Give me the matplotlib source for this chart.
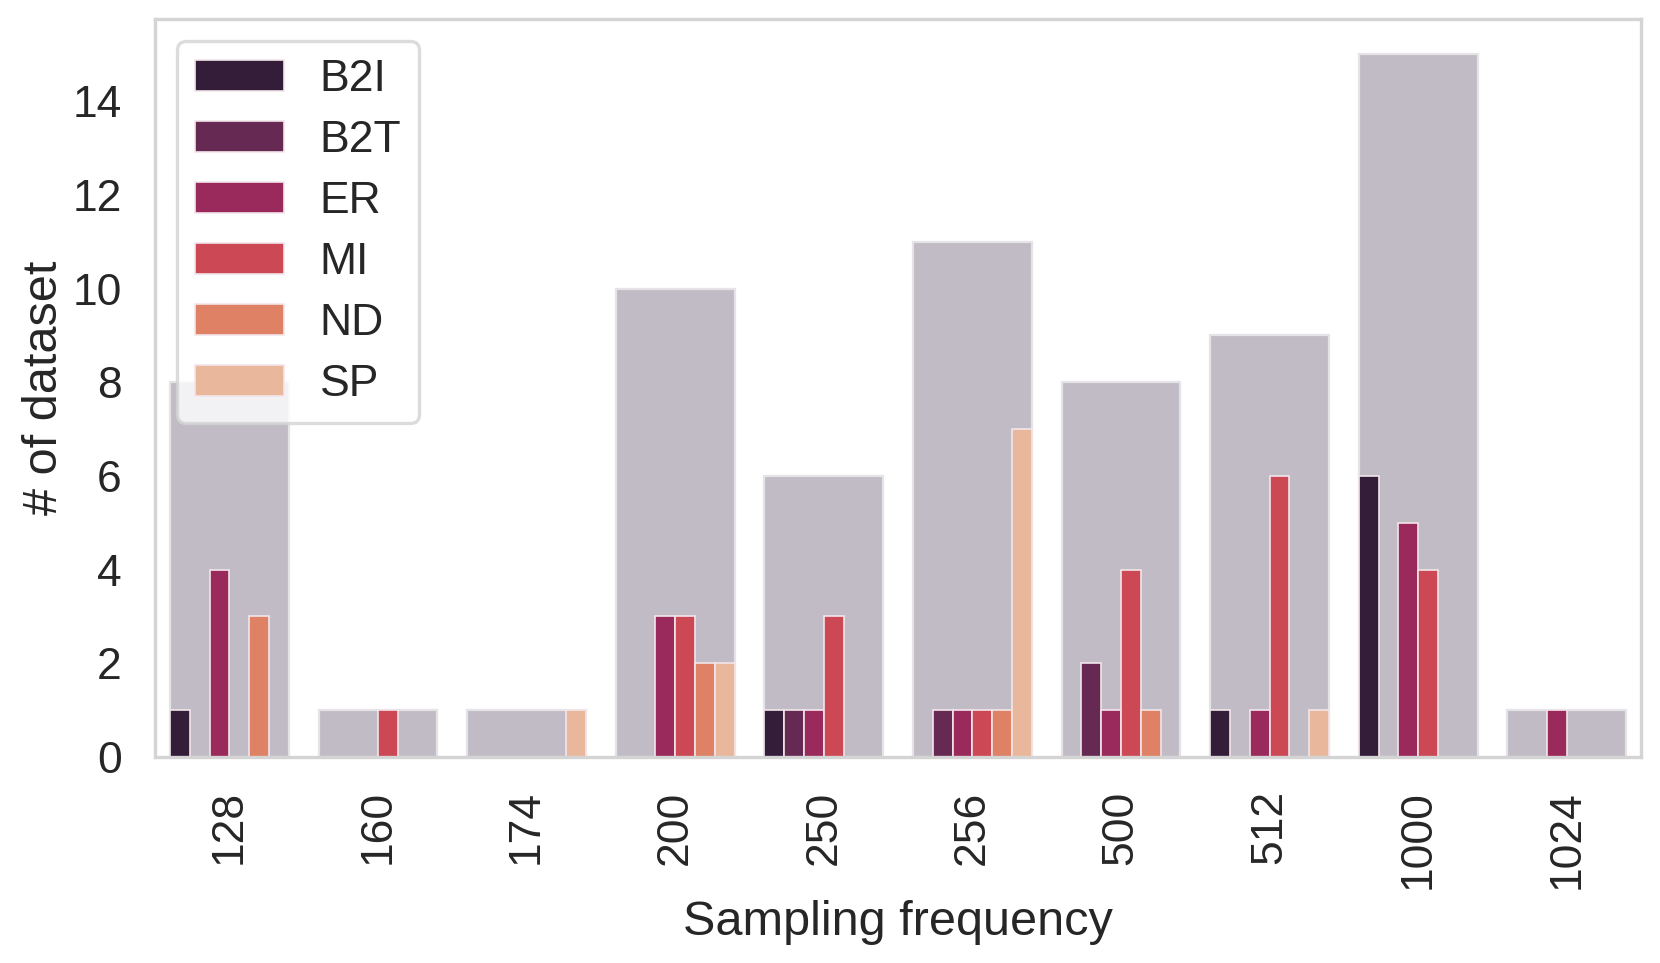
import matplotlib
matplotlib.use("Agg")
import matplotlib.pyplot as plt
import seaborn as sns
import numpy as np

categories = ["128", "160", "174", "200", "250", "256", "500", "512", "1000", "1024"]
totals = [8, 1, 1, 10, 6, 11, 8, 9, 15, 1]
hues = ["B2I", "B2T", "ER", "MI", "ND", "SP"]
B2I = [1, 0, 0, 0, 1, 0, 0, 1, 6, 0]
B2T = [0, 0, 0, 0, 1, 1, 2, 0, 0, 0]
ER = [4, 0, 0, 3, 1, 1, 1, 1, 5, 1]
MI = [0, 1, 0, 3, 3, 1, 4, 6, 4, 0]
ND = [3, 0, 0, 2, 0, 1, 1, 0, 0, 0]
SP = [0, 0, 1, 2, 0, 7, 0, 1, 0, 0]
series = [B2I, B2T, ER, MI, ND, SP]

sns.set_theme(style="whitegrid")
plt.rcParams['font.family'] = ['Liberation Sans', 'DejaVu Sans']

colors = [sns.desaturate(c, 0.75) for c in sns.color_palette("rocket", 6)]

fig, ax = plt.subplots(figsize=(8.3, 4.815), dpi=200)
x = np.arange(len(categories))
ax.bar(x, totals, width=0.8, color="#c0bbc4", edgecolor="#e6e3e8", linewidth=0.8, zorder=1)

n = len(hues)
w = 0.8 / n
for i, (name, vals) in enumerate(zip(hues, series)):
    offs = -0.4 + w * (i + 0.5)
    ax.bar(x + offs, vals, width=w, color=colors[i], edgecolor="#f2e6ea", linewidth=0.6,
           label=name, zorder=2)

ax.grid(False)
ax.set_xlim(-0.5, len(categories) - 0.5)
ax.set_ylim(0, 15.75)
ax.set_xticks(x)
ax.set_xticklabels(categories, rotation=90)
ax.set_yticks([0, 2, 4, 6, 8, 10, 12, 14])
ax.tick_params(axis='both', labelsize=16, pad=12, length=0)
ax.set_xlabel("Sampling frequency", fontsize=17.5, labelpad=4)
ax.set_ylabel("# of dataset", fontsize=17.5, labelpad=2)
for s in ax.spines.values():
    s.set_color("#d4d4d4")
    s.set_linewidth(1.2)
leg = ax.legend(loc="upper left", fontsize=16, handlelength=2.0, handleheight=0.7,
                frameon=True, borderaxespad=0.5, labelspacing=0.45)
leg.get_frame().set_edgecolor("#d4d4d4")
leg.get_frame().set_linewidth(1.2)
leg.get_frame().set_alpha(0.8)

fig.subplots_adjust(left=0.0934, right=0.9886, top=0.980, bottom=0.214)
fig.savefig("out.png", dpi=200)
